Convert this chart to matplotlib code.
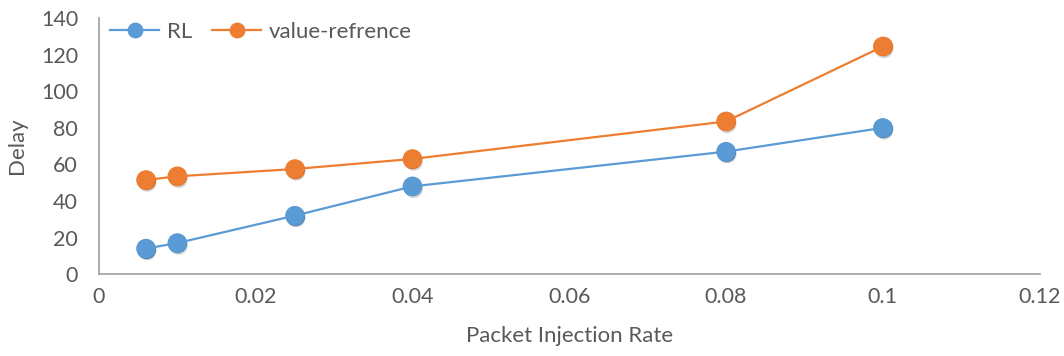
import matplotlib.pyplot as plt
import matplotlib.patheffects as pe

plt.rcParams['font.family'] = ['Lato', 'DejaVu Sans']

# injection rate vs delay
rate = [0.006, 0.01, 0.025, 0.04, 0.08, 0.1]
rl_delay = [14, 17, 32, 48, 67, 80]
ref_delay = [51.5, 53.5, 57.5, 63, 83.5, 124.5]

blue = '#5B9BD5'
orange = '#ED7D31'
grey_txt = '#595959'
grey_axis = '#A6A6A6'

fig = plt.figure(figsize=(10.64, 3.56), dpi=100)
ax = fig.add_axes([0.093, 0.230, 0.884, 0.719])

shadow = [pe.SimplePatchShadow(offset=(1.0, -2.0), shadow_rgbFace='k', alpha=0.16), pe.Normal()]

for y, c, name in [(rl_delay, blue, 'RL'), (ref_delay, orange, 'value-refrence')]:
    ax.plot(rate, y, color=c, lw=1.6, label=name, marker='o', ms=13,
            markerfacecolor=c, markeredgecolor=c, zorder=3)
    ax.plot(rate, y, ls='none', marker='o', ms=13, color=c,
            path_effects=shadow, zorder=4)

ax.set_xlim(0, 0.12)
ax.set_ylim(0, 140)
ax.set_xticks([0, 0.02, 0.04, 0.06, 0.08, 0.1, 0.12])
ax.set_xticklabels(['0', '0.02', '0.04', '0.06', '0.08', '0.1', '0.12'])
ax.set_yticks(range(0, 141, 20))

for s in ['top', 'right']:
    ax.spines[s].set_visible(False)
for s in ['left', 'bottom']:
    ax.spines[s].set_color(grey_axis)
    ax.spines[s].set_linewidth(1.3)
ax.tick_params(length=0, labelsize=15.5, labelcolor=grey_txt)
ax.tick_params(axis='x', pad=9)
ax.tick_params(axis='y', pad=15)

ax.set_xlabel('Packet Injection Rate', fontsize=16, color=grey_txt, labelpad=14)
ax.set_ylabel('Delay', fontsize=16, color=grey_txt, labelpad=10)

handles, labels = ax.get_legend_handles_labels()
ax.legend(handles[:2], labels[:2], loc='upper left', bbox_to_anchor=(-0.009, 1.065),
          ncol=2, frameon=False, fontsize=16, labelcolor=grey_txt,
          handlelength=2.2, columnspacing=0.9, handletextpad=0.35, markerscale=0.8)

fig.savefig('out.png', dpi=100)
